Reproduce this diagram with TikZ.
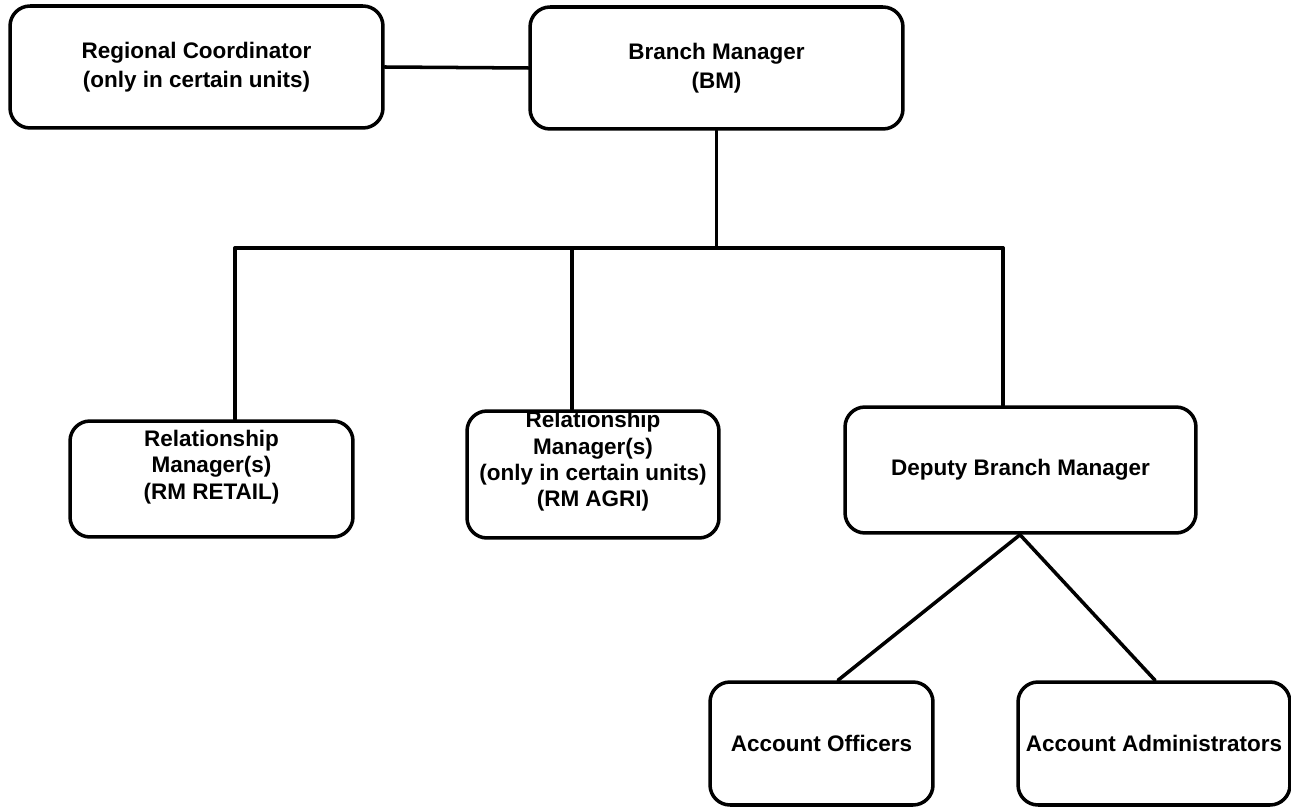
\documentclass[tikz,border=0pt]{standalone}
\usepackage{fontspec}
\setmainfont{Liberation Sans}
\usetikzlibrary{positioning}

\begin{document}
\begin{tikzpicture}[x=0.02cm,y=-0.02cm,line width=2pt,line cap=round,line join=round,
  box/.style={draw,rounded corners=0.4cm,align=center,inner sep=0pt,
    font=\bfseries\fontsize{12.8}{16.6}\selectfont},
  lbl/.style={align=center,inner sep=0pt,font=\bfseries\fontsize{12.8}{15}\selectfont}]
\useasboundingbox (0,0) rectangle (1291,807);
% top row
\node[box,minimum width=7.46cm,minimum height=2.44cm] (rc) at (196.5,67)
  {Regional Coordinator\\(only in certain units)};
\node[box,minimum width=7.46cm,minimum height=2.44cm,text depth=0.1cm] (bm) at (716.5,68)
  {Branch Manager\\(BM)};
% middle row
\node[box,minimum width=5.66cm,minimum height=2.32cm] (rmr) at (211.5,479) {};
\node[lbl,yshift=0.24cm] (rmrlbl) at (rmr) {Relationship\\Manager(s)\\(RM RETAIL)};
\node[box,minimum width=5.04cm,minimum height=2.54cm] (rma) at (593,474.5) {};
\node[lbl,yshift=0.26cm] (rmalbl) at (rma) {Relationship\\Manager(s)\\(only in certain units)\\(RM AGRI)};
\node[box,minimum width=7.02cm,minimum height=2.52cm] (dbm) at (1020.5,470)
  {Deputy Branch Manager};
% bottom row
\node[box,minimum width=4.46cm,minimum height=2.46cm] (ao) at (821.5,743.5)
  {Account Officers};
\node[box,minimum width=5.44cm,minimum height=2.46cm] (aa) at (1154,743.5)
  {Account Administrators};
% bus
\coordinate (busL) at (235,248);
\coordinate (busM) at (572,248);
\coordinate (busR) at (1003,248);
\draw (rc.east) -- (bm.west);
\draw (bm.south) -- (bm.south |- busL);
\draw (busL) -- (busR);
\draw (busL) -- (busL |- rmr.north);
\draw (busM) -- (busM |- rma.north);
\draw (busR) -- (busR |- dbm.north);
\draw ([xshift=-0.01cm]dbm.south) -- ([xshift=0.33cm]ao.north);
\draw ([xshift=-0.01cm]dbm.south) -- ([xshift=0.02cm]aa.north);
\end{tikzpicture}
\end{document}
